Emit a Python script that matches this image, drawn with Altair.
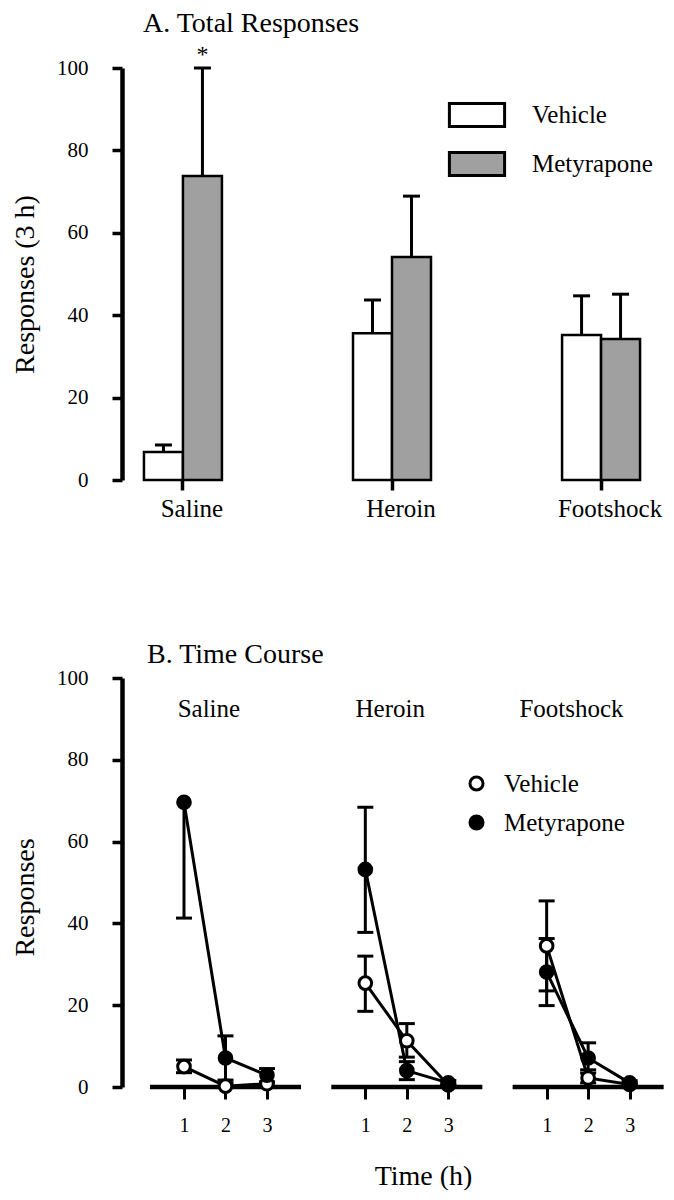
import altair as alt
import pandas as pd

FONT = "Liberation Serif"

# ---------------- Panel A data ----------------
categories = ["Saline", "Heroin", "Footshock"]
treatments = ["Vehicle", "Metyrapone"]
total_vehicle = [6.8, 35.6, 35.2]
total_vehicle_upper = [8.5, 43.7, 44.7]
total_metyrapone = [73.8, 54.1, 34.2]
total_metyrapone_upper = [100.0, 68.9, 45.1]
star_category = ["Saline"]
star_treatment = ["Metyrapone"]

# ---------------- Panel B data ----------------
groups = ["Saline", "Heroin", "Footshock"]
times = [1, 2, 3]
series = ["Vehicle", "Metyrapone"]
veh_mean = [[5.0, 0.2, 0.8], [25.4, 11.3, 0.5], [34.5, 2.2, 0.6]]
veh_low = [[3.5, 0.0, 0.2], [18.5, 7.3, 0.2], [23.5, 1.0, 0.2]]
veh_high = [[6.6, 1.0, 1.2], [32.0, 15.5, 0.8], [45.5, 4.2, 1.0]]
met_mean = [[69.6, 7.1, 2.9], [53.2, 4.0, 1.0], [28.1, 7.1, 1.0]]
met_low = [[41.3, 1.7, 1.2], [37.8, 1.8, 0.4], [19.9, 3.4, 0.5]]
met_high = [[69.6, 12.5, 4.5], [68.4, 6.2, 1.6], [36.3, 10.8, 1.5]]

# ================= Panel A =================
dfA = pd.DataFrame({
    "category": categories * 2,
    "treatment": [treatments[0]] * 3 + [treatments[1]] * 3,
    "value": total_vehicle + total_metyrapone,
    "upper": total_vehicle_upper + total_metyrapone_upper,
})
dfStar = pd.DataFrame({"category": star_category, "treatment": star_treatment,
                       "value": [100.0], "label": ["*"]})

xA = alt.X("category:N", sort=categories, title=None,
           scale=alt.Scale(paddingInner=0.627, paddingOuter=0.105),
           axis=alt.Axis(domain=False, ticks=True, tickSize=10, tickWidth=3.5,
                         bandPosition=0.5, labelFontSize=25, labelPadding=6,
                         labelOffset=9, labelAngle=0))
xoA = alt.XOffset("treatment:N", sort=treatments,
                  scale=alt.Scale(paddingInner=0, paddingOuter=0))
yaxis_common = dict(values=[0, 20, 40, 60, 80, 100], domainWidth=4.5, tickSize=10,
                    tickWidth=3.5, labelFontSize=21, labelPadding=24,
                    titleFontSize=28, titlePadding=17, grid=False)
yA_scale = alt.Scale(domain=[0, 100], nice=False)
yA_axis = alt.Axis(title="Responses (3 h)", titleY=216, **yaxis_common)

bars = alt.Chart(dfA).mark_bar(stroke="black", strokeWidth=2.5).encode(
    x=xA, xOffset=xoA,
    y=alt.Y("value:Q", scale=yA_scale, axis=yA_axis),
    fill=alt.Fill("treatment:N", sort=treatments,
                  scale=alt.Scale(domain=treatments, range=["white", "#a0a0a0"]),
                  legend=alt.Legend(title=None, orient="none", legendX=342, legendY=34,
                                    symbolType="M-2.4,-1L2.4,-1L2.4,1L-2.4,1Z",
                                    symbolSize=529, symbolStrokeColor="black",
                                    symbolStrokeWidth=3, labelFontSize=25,
                                    labelOffset=42, rowPadding=13, padding=0,
                                    labelColor="black")),
)
errA = alt.Chart(dfA).mark_rule(color="black", strokeWidth=3).encode(
    x=xA, xOffset=xoA,
    y=alt.Y("value:Q", scale=yA_scale, axis=yA_axis), y2="upper:Q")
capA = alt.Chart(dfA).mark_tick(color="black", orient="horizontal", size=17,
                                thickness=3, opacity=1).encode(
    x=xA, xOffset=xoA,
    y=alt.Y("upper:Q", scale=yA_scale, axis=yA_axis))
star = alt.Chart(dfStar).mark_text(fontSize=24, dy=-6, baseline="alphabetic",
                                   color="black", font=FONT).encode(
    x=xA, xOffset=xoA,
    y=alt.Y("value:Q", scale=yA_scale, axis=yA_axis), text="label:N")

panelA = alt.layer(errA, bars, capA, star).properties(
    width=540, height=412,
    title=alt.Title("A. Total Responses", anchor="start", frame="group", dx=21,
                    offset=5))

# ================= Panel B =================
OFF = 4.37
rows = []
for gi, g in enumerate(groups):
    for si, s in enumerate(series):
        means = veh_mean if si == 0 else met_mean
        lows = veh_low if si == 0 else met_low
        highs = veh_high if si == 0 else met_high
        for ti, t in enumerate(times):
            rows.append({"group": g, "series": s, "t": t, "x": gi * OFF + t,
                         "mean": means[gi][ti], "low": lows[gi][ti],
                         "high": highs[gi][ti]})
dfB = pd.DataFrame(rows)
caps = []
for r in rows:
    if r["low"] < r["mean"]:
        caps.append({"x": r["x"], "cap": r["low"]})
    if r["high"] > r["mean"]:
        caps.append({"x": r["x"], "cap": r["high"]})
dfCaps = pd.DataFrame(caps)
dfBase = pd.DataFrame({"group": groups,
                       "xs": [gi * OFF + 0.18 for gi in range(3)],
                       "xe": [gi * OFF + 3.82 for gi in range(3)],
                       "y": [0.0] * 3})
dfSub = pd.DataFrame({"group": groups,
                      "x": [gi * OFF + 1.6 for gi in range(3)],
                      "y": [92.5] * 3})

tick_vals = [gi * OFF + t for gi in range(3) for t in times]
xB_scale = alt.Scale(domain=[-0.494, 12.52], nice=False, zero=False)
xB_axis = alt.Axis(values=tick_vals,
                   labelExpr=f"round(datum.value - {OFF}*floor(datum.value/{OFF}))",
                   domain=False, tickSize=12, tickWidth=3, labelFontSize=20,
                   labelPadding=16, title="Time (h)", titleFontSize=28,
                   titlePadding=27, titleX=301, grid=False)
yB_scale = alt.Scale(domain=[0, 100], nice=False)
yB_axis = alt.Axis(title="Responses", titleY=219, **yaxis_common)


def xb(field):
    return alt.X(field, scale=xB_scale, axis=xB_axis)


def yb(field):
    return alt.Y(field, scale=yB_scale, axis=yB_axis)


baseB = alt.Chart(dfBase).mark_rule(color="black", strokeWidth=4.5).encode(
    x=xb("xs:Q"), x2="xe:Q", y=yb("y:Q"))
errB = alt.Chart(dfB).mark_rule(color="black", strokeWidth=3).encode(
    x=xb("x:Q"), y=yb("low:Q"), y2="high:Q")
capB = alt.Chart(dfCaps).mark_tick(color="black", orient="horizontal", size=16,
                                   thickness=3, opacity=1).encode(
    x=xb("x:Q"), y=yb("cap:Q"))
linesB = alt.Chart(dfB).mark_line(color="black", strokeWidth=3).encode(
    x=xb("x:Q"), y=yb("mean:Q"), detail=["group:N", "series:N"], order="t:Q")
pointsB = alt.Chart(dfB).mark_point(filled=True, shape="circle", size=160,
                                    stroke="black", strokeWidth=3, opacity=1).encode(
    x=xb("x:Q"), y=yb("mean:Q"),
    fill=alt.Fill("series:N", sort=series,
                  scale=alt.Scale(domain=series, range=["white", "black"]),
                  legend=alt.Legend(title=None, orient="none", legendX=342,
                                    legendY=93, symbolType="circle",
                                    symbolSize=170, symbolStrokeColor="black",
                                    symbolStrokeWidth=3, labelFontSize=25,
                                    labelOffset=15, rowPadding=12, padding=0,
                                    labelColor="black")))
subB = alt.Chart(dfSub).mark_text(fontSize=25, font=FONT, color="black",
                                  baseline="middle").encode(
    x=xb("x:Q"), y=yb("y:Q"), text="group:N")

panelB = alt.layer(baseB, errB, capB, linesB, pointsB, subB).properties(
    width=540, height=409,
    title=alt.Title("B. Time Course", anchor="start", frame="group", dx=25,
                    offset=-2))

chart = alt.vconcat(panelA, panelB, spacing=120).resolve_scale(
    x="independent", y="independent", fill="independent"
).resolve_legend(fill="independent").properties(
    padding={"left": 3, "top": 2, "right": 0, "bottom": 0}
).configure_view(stroke=None).configure_axis(
    labelFont=FONT, titleFont=FONT, labelColor="black", titleColor="black",
    domainColor="black", tickColor="black", titleFontWeight="normal"
).configure_title(
    font=FONT, fontSize=28, fontWeight="normal", color="black"
).configure_legend(labelFont=FONT)

chart.save("out.html", embed_options={"renderer": "svg", "actions": False})
